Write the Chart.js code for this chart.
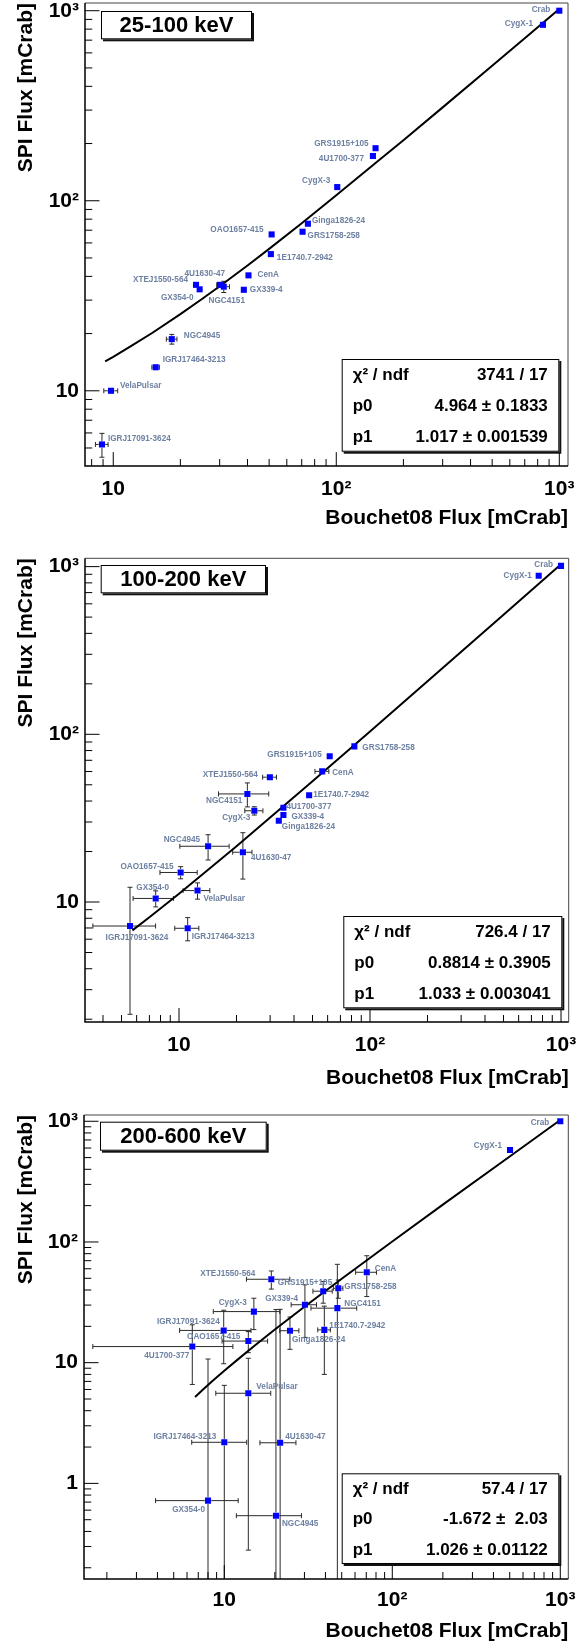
<!DOCTYPE html>
<html><head><meta charset="utf-8">
<script src="https://cdn.jsdelivr.net/npm/chart.js@4.4.1/dist/chart.umd.min.js"></script>
<style>
html,body{margin:0;padding:0;background:#fff;}
#wrap{position:relative;width:585px;height:1648px;background:#fff;}
canvas{position:absolute;left:0;}
</style></head><body>
<div id="wrap">
<canvas id="c1" width="585" height="540" style="top:0px"></canvas>
<canvas id="c2" width="585" height="555" style="top:540px"></canvas>
<canvas id="c3" width="585" height="553" style="top:1095px"></canvas>
</div>
<script>
// ---------- shared text / ticks ----------
const majorTicks = [1, 10, 100, 1000];
const majorTickLabels = ['1', '10', '10²', '10³'];
const xTitle = 'Bouchet08 Flux [mCrab]';
const yTitle = 'SPI Flux [mCrab]';
const energyBands = ['25-100 keV', '100-200 keV', '200-600 keV'];
const statsLabels = ['χ² / ndf', 'p0', 'p1'];

// ---------- panel 1 : 25-100 keV ----------
const names1 = ["Crab","CygX-1","GRS1915+105","4U1700-377","CygX-3","Ginga1826-24","GRS1758-258","OAO1657-415","1E1740.7-2942","CenA","GX339-4","4U1630-47","NGC4151","XTEJ1550-564","GX354-0","NGC4945","IGRJ17464-3213","VelaPulsar","IGRJ17091-3624"];
const bouchet1 = [1000, 845, 150, 146, 101, 74.6, 70.6, 51.3, 50.9, 40.4, 38.5, 30.1, 31.3, 23.5, 24.4, 18.3, 15.5, 9.77, 8.9];
const spi1     = [1000, 843, 189, 172, 118, 75.7, 68.7, 66.5, 52.4, 40.5, 34.0, 36.1, 35.3, 36.1, 34.2, 18.7, 13.3, 10.0, 5.22];
const bouchetErr1 = [0, 0, 0, 0, 0, 0, 0, 0, 0, 0, 0, 1.0, 1.9, 0, 0, 1.0, 0.6, 0.7, 0.58];
const spiErr1     = [0, 0, 0, 0, 0, 0, 0, 0, 0, 0, 0, 1.2, 2.4, 0, 0, 1.1, 0.3, 0.2, 0.75];
const fitX1 = [9.2, 10, 12, 15, 20, 25, 30, 40, 50, 70, 100, 150, 200, 300, 500, 700, 1000];
const fitY1 = [14.3, 15.1, 17.2, 20.2, 25.3, 30.4, 35.5, 45.6, 55.8, 76.2, 107, 158, 208, 310, 514, 717, 1022];
const xRange1 = [7.47, 1094];
const yRange1 = [4.02, 1098];
const stats1 = ['3741 / 17', '4.964 ± 0.1833', '1.017 ± 0.001539'];

// ---------- panel 2 : 100-200 keV ----------
const names2 = ["Crab","CygX-1","GRS1758-258","GRS1915+105","CenA","1E1740.7-2942","4U1700-377","GX339-4","Ginga1826-24","XTEJ1550-564","NGC4151","CygX-3","NGC4945","4U1630-47","OAO1657-415","VelaPulsar","GX354-0","IGRJ17464-3213","IGRJ17091-3624"];
const bouchet2 = [1000, 764, 82.8, 61.5, 56.2, 48.0, 35.2, 35.2, 33.3, 29.9, 22.8, 24.8, 14.2, 21.6, 10.2, 12.5, 7.55, 11.1, 5.54];
const spi2     = [1010, 883, 84.7, 74.0, 60.1, 43.3, 36.5, 33.0, 30.5, 55.5, 44.1, 35.0, 21.5, 19.8, 15.0, 11.7, 10.5, 6.97, 7.19];
const bouchetErr2 = [0, 0, 0, 0, 4.7, 0, 0.8, 0.8, 0.8, 2.5, 6.7, 2.7, 4.1, 2.5, 2.25, 2.0, 1.8, 1.6, 2.0];
const spiErr2     = [0, 0, 0, 0, 2.5, 0, 0.5, 0.5, 0.8, 0.5, 7.2, 2.0, 3.7, 6.1, 1.25, 1.3, 1.15, 1.1, 5.05];
const fitX2 = [5.7, 7, 10, 15, 20, 30, 50, 100, 200, 500, 1000];
const fitY2 = [6.77, 8.11, 11.2, 16.4, 21.5, 31.9, 52.5, 104, 207, 517, 1034];
const xRange2 = [3.22, 1097];
const yRange2 = [1.925, 1121];
const stats2 = ['726.4 / 17', '0.8814 ± 0.3905', '1.033 ± 0.003041'];

// ---------- panel 3 : 200-600 keV ----------
const names3 = ["Crab","CygX-1","CenA","GRS1758-258","NGC4151","GRS1915+105","1E1740.7-2942","GX339-4","Ginga1826-24","XTEJ1550-564","CygX-3","IGRJ17091-3624","OAO1657-415","4U1700-377","VelaPulsar","IGRJ17464-3213","4U1630-47","GX354-0","NGC4945"];
const bouchet3 = [1000, 502, 70.5, 47.7, 47.1, 38.8, 39.4, 30.2, 24.6, 19.05, 15.0, 9.92, 13.9, 6.45, 13.9, 10.0, 21.5, 8.0, 20.3];
const spi3     = [1000, 578, 56.1, 41.3, 28.3, 39.1, 18.7, 30.2, 18.4, 49.1, 26.5, 18.5, 15.1, 13.6, 5.58, 2.19, 2.17, 0.72, 0.54];
const bouchetErr3 = [0, 0, 10, 3.1, 14.3, 5.1, 3.4, 5.2, 3.2, 5.5, 6.4, 4.5, 4.2, 4.8, 5.0, 3.6, 5.2, 4.1, 8.5];
const spiErr3     = [0, 0, 20.8, 7.1, 37, 8, 10.7, 14, 5.5, 8.4, 7.7, 8.7, 3.0, 7, 5.3, 4.3, 25.5, 10, 27];
const fitX3 = [6.7, 7.5, 8.5, 10, 12, 15, 20, 30, 50, 100, 200, 500, 1000];
const fitY3 = [5.20, 6.02, 7.05, 8.59, 10.6, 13.7, 18.8, 29.1, 49.6, 101, 204, 511, 1024];
const xRange3 = [1.462, 1116];
const yRange3 = [0.1614, 1127];
const stats3 = ['57.4 / 17', '-1.672 ±  2.03', '1.026 ± 0.01122'];

// ---------- label placement (layout only): [dx, dy, align] ----------
const labelPlace1 = [[-9,-1,'right'],[-10,-1,'right'],[-7,-4,'right'],[-9,3,'right'],[-7,-6,'right'],[4,-3,'left'],[5,4,'left'],[-8,-5,'right'],[6,4,'left'],[9,-1,'left'],[6,0,'left'],[5,-11,'right'],[3,14,'center'],[-8,-5,'right'],[-6,8,'right'],[12,-3,'left'],[7,-8,'left'],[9,-5,'left'],[6,-6,'left']];
const labelPlace2 = [[-8,-1,'right'],[-7,0,'right'],[8,1,'left'],[-8,-1,'right'],[10,1,'left'],[4,-1,'left'],[3,-1,'left'],[8,2,'left'],[3,6,'left'],[-12,-2,'right'],[-5,7,'right'],[-4,7,'right'],[-8,-7,'right'],[8,5,'left'],[-7,-6,'right'],[6,8,'left'],[-3,-11,'center'],[4,8,'left'],[7,12,'center']];
const labelPlace3 = [[-11,1,'right'],[-8,-4,'right'],[8,-4,'left'],[6,-2,'left'],[7,-4,'left'],[9,-8,'right'],[5,-4,'left'],[-7,-6,'right'],[2,9,'left'],[-16,-6,'right'],[-7,-9,'right'],[-4,-9,'right'],[-8,-4,'right'],[-3,9,'right'],[8,-7,'left'],[-8,-6,'right'],[5,-6,'left'],[-3,9,'right'],[6,8,'left']];

// ---------- panel geometry (layout only) ----------
const layout1 = {padTop: 3, padRight: 17, yAxisW: 85, xAxisH: 74, xTitlePad: 9.1, xTickPad: 10.7, titleBox: [101, 11, 151, 28.3], statsBox: [341.7, 359, 217.6, 92.7]};
const layout2 = {padTop: 18.3, padRight: 16.3, yAxisW: 85, xAxisH: 73, xTitlePad: 4.1, xTickPad: 10.4, titleBox: [100.7, 25, 165.3, 28.3], statsBox: [343.3, 376, 219, 92.3]};
const layout3 = {padTop: 20, padRight: 16.7, yAxisW: 84, xAxisH: 69, xTitlePad: 3.7, xTickPad: 9.1, titleBox: [100, 26.7, 166.7, 29], statsBox: [341.7, 378.3, 217.6, 90.7]};

const FONT = "'Liberation Sans', Arial, Helvetica, sans-serif";
Chart.defaults.font.family = FONT;
Chart.defaults.color = '#000';

function tickLabel(v) {
  for (let i = 0; i < majorTicks.length; i++) {
    if (Math.abs(v - majorTicks[i]) < 1e-6 * majorTicks[i]) return majorTickLabels[i];
  }
  return null;
}

function pave(ctx, x, y, w, h) {
  ctx.fillStyle = '#111';
  ctx.fillRect(x + 2, y + 2, w, h);
  ctx.fillStyle = '#fff';
  ctx.fillRect(x, y, w, h);
  ctx.strokeStyle = '#000';
  ctx.lineWidth = 1;
  ctx.strokeRect(x + 0.5, y + 0.5, w - 1, h - 1);
}

const rootPlugin = {
  id: 'rootStyle',
  beforeDatasetsDraw(chart) {
    const P = chart.options.plugins.rootStyle;
    const ctx = chart.ctx, a = chart.chartArea;
    const xs = chart.scales.x, ys = chart.scales.y;
    ctx.save();
    ctx.beginPath(); ctx.rect(a.left, a.top, a.right - a.left, a.bottom - a.top); ctx.clip();
    ctx.strokeStyle = '#2a2a2a'; ctx.lineWidth = 1;
    const half = 3.2, cap = 2.5;
    const line = (x1, y1, x2, y2) => { ctx.beginPath(); ctx.moveTo(x1, y1); ctx.lineTo(x2, y2); ctx.stroke(); };
    P.x.forEach((xv, i) => {
      const yv = P.y[i], ex = P.ex[i], ey = P.ey[i];
      const px = xs.getPixelForValue(xv), py = ys.getPixelForValue(yv);
      if (ex > 0) {
        const lo = xv - ex, hi = xv + ex;
        const pl = lo > xs.min ? xs.getPixelForValue(lo) : a.left - 2;
        const ph = hi < xs.max ? xs.getPixelForValue(hi) : a.right + 2;
        if (px - pl > half) { line(pl, py, px - half, py); if (lo > xs.min) line(pl, py - cap, pl, py + cap); }
        if (ph - px > half) { line(px + half, py, ph, py); if (hi < xs.max) line(ph, py - cap, ph, py + cap); }
      }
      if (ey > 0) {
        const lo = yv - ey, hi = yv + ey;
        const pb = lo > ys.min ? ys.getPixelForValue(lo) : a.bottom + 2;
        const pt = hi < ys.max ? ys.getPixelForValue(hi) : a.top - 2;
        if (pb - py > half) { line(px, py + half, px, pb); if (lo > ys.min) line(px - cap, pb, px + cap, pb); }
        if (py - pt > half) { line(px, py - half, px, pt); if (hi < ys.max) line(px - cap, pt, px + cap, pt); }
      }
    });
    ctx.restore();
    const meta = chart.getDatasetMeta(0);
    ctx.save();
    ctx.font = 'bold 8.2px ' + FONT;
    ctx.fillStyle = '#6e81a2';
    ctx.textBaseline = 'middle';
    P.names.forEach((n, i) => {
      const el = meta.data[i];
      const pl = P.place[i];
      ctx.textAlign = pl[2];
      ctx.fillText(n, el.x + pl[0], el.y + pl[1]);
    });
    ctx.restore();
  },
  afterDraw(chart) {
    const P = chart.options.plugins.rootStyle;
    const ctx = chart.ctx, a = chart.chartArea;
    const xs = chart.scales.x, ys = chart.scales.y;
    ctx.save();
    // frame
    ctx.strokeStyle = '#444'; ctx.lineWidth = 1;
    ctx.beginPath();
    ctx.moveTo(a.left, a.top); ctx.lineTo(a.right, a.top); ctx.lineTo(a.right, a.bottom);
    ctx.stroke();
    ctx.strokeStyle = '#000'; ctx.lineWidth = 1.5;
    ctx.beginPath();
    ctx.moveTo(a.left, a.top); ctx.lineTo(a.left, a.bottom); ctx.lineTo(a.right, a.bottom);
    ctx.stroke();
    // inward tick marks
    ctx.lineWidth = 1;
    const lenY = 0.03 * (a.right - a.left), lenX = 0.03 * (a.bottom - a.top);
    const marks = (scale, horizontal, len) => {
      for (let e = Math.floor(Math.log10(scale.min)); e <= Math.ceil(Math.log10(scale.max)); e++) {
        for (let m = 1; m <= 9; m++) {
          const v = m * Math.pow(10, e);
          if (v < scale.min || v > scale.max) continue;
          const p = scale.getPixelForValue(v);
          const L = m === 1 ? len : len / 2;
          ctx.beginPath();
          if (horizontal) { ctx.moveTo(p, a.bottom); ctx.lineTo(p, a.bottom - L); }
          else { ctx.moveTo(a.left, p); ctx.lineTo(a.left + L, p); }
          ctx.stroke();
        }
      }
    };
    marks(xs, true, lenX);
    marks(ys, false, lenY);
    // band title box
    const tb = P.layout.titleBox;
    pave(ctx, tb[0], tb[1], tb[2], tb[3]);
    ctx.fillStyle = '#000';
    ctx.font = 'bold 22px ' + FONT;
    ctx.textAlign = 'center'; ctx.textBaseline = 'middle';
    ctx.fillText(P.band, tb[0] + tb[2] / 2, tb[1] + tb[3] / 2 + 1);
    // stats box
    const sb = P.layout.statsBox;
    pave(ctx, sb[0], sb[1], sb[2], sb[3]);
    ctx.fillStyle = '#000';
    ctx.font = 'bold 17px ' + FONT;
    for (let k = 0; k < 3; k++) {
      const yy = sb[1] + sb[3] * (2 * k + 1) / 6 + 1;
      ctx.textAlign = 'left';
      ctx.fillText(statsLabels[k], sb[0] + 11, yy);
      ctx.textAlign = 'right';
      ctx.fillText(P.stats[k], sb[0] + sb[2] - 11.5, yy);
    }
    ctx.restore();
  }
};

function makePanel(id, names, xv, yv, exv, eyv, fx, fy, xr, yr, band, stats, place, L) {
  const pts = xv.map((x, i) => ({x: x, y: yv[i]}));
  const fit = fx.map((x, i) => ({x: x, y: fy[i]}));
  return new Chart(document.getElementById(id), {
    type: 'scatter',
    data: {
      datasets: [
        {data: pts, pointStyle: 'rect', pointRadius: 4.3, pointHoverRadius: 4.3, backgroundColor: '#0000ff', borderWidth: 0, order: 0},
        {data: fit, showLine: true, pointRadius: 0, borderColor: '#000', borderWidth: 2, tension: 0, fill: false, order: 1}
      ]
    },
    options: {
      responsive: false, animation: false, devicePixelRatio: 1, events: [],
      layout: {autoPadding: false, padding: {top: L.padTop, right: L.padRight, left: 0, bottom: 0}},
      plugins: {
        legend: {display: false}, tooltip: {enabled: false},
        rootStyle: {names: names, x: xv, y: yv, ex: exv, ey: eyv, band: band, stats: stats, place: place, layout: L}
      },
      scales: {
        x: {
          type: 'logarithmic', position: 'bottom', min: xr[0], max: xr[1],
          grid: {display: false, drawTicks: false}, border: {display: false},
          ticks: {autoSkip: false, maxRotation: 0, minRotation: 0, padding: L.xTickPad,
                  font: {size: 21, weight: 'bold'}, color: '#000', callback: (v) => tickLabel(v)},
          title: {display: true, text: xTitle, align: 'end', font: {size: 21, weight: 'bold'}, color: '#000', padding: {top: 0, bottom: L.xTitlePad}},
          afterFit: (s) => { s.height = L.xAxisH; s.paddingLeft = 0; s.paddingRight = 0; }
        },
        y: {
          type: 'logarithmic', position: 'left', min: yr[0], max: yr[1],
          grid: {display: false, drawTicks: false}, border: {display: false},
          ticks: {autoSkip: false, padding: 6, font: {size: 21, weight: 'bold'}, color: '#000', callback: (v) => tickLabel(v)},
          title: {display: true, text: yTitle, align: 'end', font: {size: 21, weight: 'bold'}, color: '#000', padding: {top: 14.1, bottom: 0}},
          afterFit: (s) => { s.width = L.yAxisW; s.paddingTop = 0; s.paddingBottom = 0; }
        }
      }
    },
    plugins: [rootPlugin]
  });
}

makePanel('c1', names1, bouchet1, spi1, bouchetErr1, spiErr1, fitX1, fitY1, xRange1, yRange1, energyBands[0], stats1, labelPlace1, layout1);
makePanel('c2', names2, bouchet2, spi2, bouchetErr2, spiErr2, fitX2, fitY2, xRange2, yRange2, energyBands[1], stats2, labelPlace2, layout2);
makePanel('c3', names3, bouchet3, spi3, bouchetErr3, spiErr3, fitX3, fitY3, xRange3, yRange3, energyBands[2], stats3, labelPlace3, layout3);
</script>
</body></html>
